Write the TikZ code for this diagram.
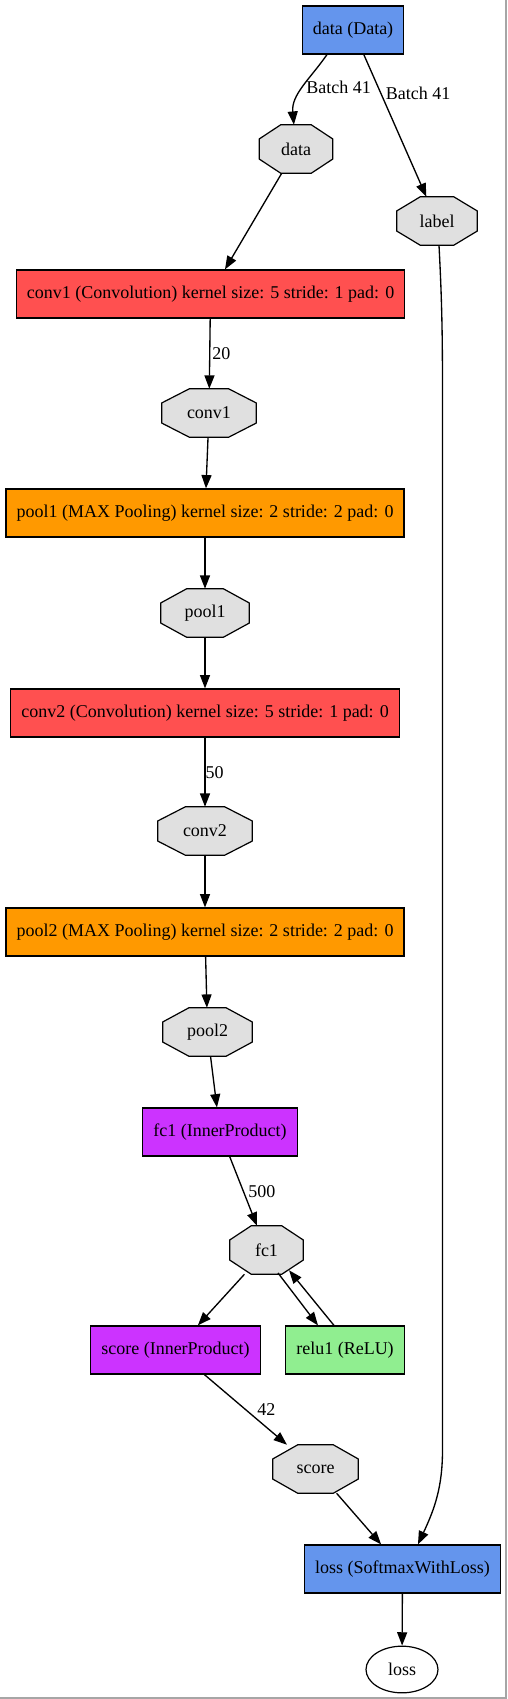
\documentclass[tikz,border=0pt]{standalone}
\usepackage{fontspec}
\setmainfont{Liberation Serif}
\usetikzlibrary{arrows.meta,shapes.geometric,calc}

\definecolor{datablue}{HTML}{6495ED}
\definecolor{convred}{HTML}{FF5050}
\definecolor{poolorange}{HTML}{FF9900}
\definecolor{ipviolet}{HTML}{CC33FF}
\definecolor{relugreen}{HTML}{90EE90}
\definecolor{blobgray}{HTML}{E0E0E0}

\pgfdeclarelayer{bg}
\pgfsetlayers{bg,main}

\tikzset{
  layer/.style={draw, line width=0.9pt, rectangle, minimum height=36pt, inner xsep=7.9pt, inner ysep=0pt},
  blob/.style={rectangle, inner sep=0pt, minimum height=36pt, minimum width={#1*0.75pt},
    append after command={\pgfextra{
      \begin{pgfonlayer}{bg}
        \draw[line width=0.9pt, fill=blobgray]
          ($(\tikzlastnode.north west)!.293!(\tikzlastnode.north east)$) --
          ($(\tikzlastnode.north east)!.293!(\tikzlastnode.north west)$) --
          ($(\tikzlastnode.north east)!.293!(\tikzlastnode.south east)$) --
          ($(\tikzlastnode.south east)!.293!(\tikzlastnode.north east)$) --
          ($(\tikzlastnode.south east)!.293!(\tikzlastnode.south west)$) --
          ($(\tikzlastnode.south west)!.293!(\tikzlastnode.south east)$) --
          ($(\tikzlastnode.south west)!.293!(\tikzlastnode.north west)$) --
          ($(\tikzlastnode.north west)!.293!(\tikzlastnode.south west)$) -- cycle;
      \end{pgfonlayer}}}},
  edge/.style={line width=1pt, -{Triangle[length=10pt,width=7.5pt]}},
}

\begin{document}
\begin{tikzpicture}[x=0.75pt, y=-0.75pt, font=\fontsize{13.5}{16}\selectfont]
\useasboundingbox (0,0) rectangle (507,1699);
% 外框
\draw[line width=1pt, black!35] (506,0) -- (506,1698) -- (0,1698);

% 放置层
\node[layer, fill=datablue] (dataL) at (353,30) {data (Data)};
\node[layer, fill=convred] (conv1L) at (210.5,294) {conv1 (Convolution) kernel size: 5 stride: 1 pad: 0};
\node[layer, fill=poolorange] (pool1L) at (205,513) {pool1 (MAX Pooling) kernel size: 2 stride: 2 pad: 0};
\node[layer, fill=convred] (conv2L) at (205,713) {conv2 (Convolution) kernel size: 5 stride: 1 pad: 0};
\node[layer, fill=poolorange] (pool2L) at (205,932) {pool2 (MAX Pooling) kernel size: 2 stride: 2 pad: 0};
\node[layer, fill=ipviolet] (fc1L) at (220,1132) {fc1 (InnerProduct)};
\node[layer, fill=ipviolet] (scoreL) at (175.5,1350) {score (InnerProduct)};
\node[layer, fill=relugreen] (relu1L) at (345,1350) {relu1 (ReLU)};
\node[layer, fill=datablue] (lossL) at (402.5,1569) {loss (SoftmaxWithLoss)};

% 放置数据块
\node[blob=73] (dataB) at (296,149) {data};
\node[blob=80] (labelB) at (437,221) {label};
\node[blob=94] (conv1B) at (209,413) {conv1};
\node[blob=88] (pool1B) at (205,613) {pool1};
\node[blob=94] (conv2B) at (205,831) {conv2};
\node[blob=89] (pool2B) at (207.5,1032) {pool2};
\node[blob=73] (fc1B) at (266.5,1250) {fc1};
\node[blob=85] (scoreB) at (315.5,1469) {score};
\node[draw, line width=0.9pt, ellipse, inner sep=0pt, minimum width=54pt, minimum height=35pt] (lossB) at (402,1669.5) {loss};

% 画连线
\draw[edge] ([xshift=-19.5pt]dataL.south) to[out=235,in=95]
  node[midway, right, inner sep=2pt] {Batch 41} (dataB);
\draw[edge] (dataL) -- node[pos=.27, right] {Batch 41} (labelB);
\draw[edge] (dataB) -- (conv1L);
\draw[edge] (conv1L) -- node[midway, right, inner sep=1.5pt] {20} (conv1B);
\draw[edge] (conv1B) -- (pool1L);
\draw[edge] (pool1L) -- (pool1B);
\draw[edge] (pool1B) -- (conv2L);
\draw[edge] (conv2L) -- node[midway, right, inner sep=0pt] {50} (conv2B);
\draw[edge] (conv2B) -- (pool2L);
\draw[edge] (pool2L) -- (pool2B);
\draw[edge] (pool2B) -- (fc1L);
\draw[edge] (fc1L) -- node[midway, right] {500} (fc1B);
\draw[edge] (fc1B) -- (scoreL);
\draw[edge] ([xshift=8.6pt,yshift=1pt]fc1B.south) -- ([xshift=-20.25pt]relu1L.north);
\draw[edge] ([xshift=-8.25pt]relu1L.north) -- ([xshift=16.9pt,yshift=3pt]fc1B.south);
\draw[edge] (scoreL) -- node[midway, right, xshift=5pt] {42} (scoreB);
\draw[edge] (scoreB) -- (lossL);
\draw[edge] ([xshift=1.5pt]labelB.south) to[out=-87,in=90] (442.5,400)
  -- (442.5,1450) to[out=-90,in=65] ([xshift=11.6pt]lossL.north);
\draw[edge] (lossL) -- (lossB);
\end{tikzpicture}
\end{document}
